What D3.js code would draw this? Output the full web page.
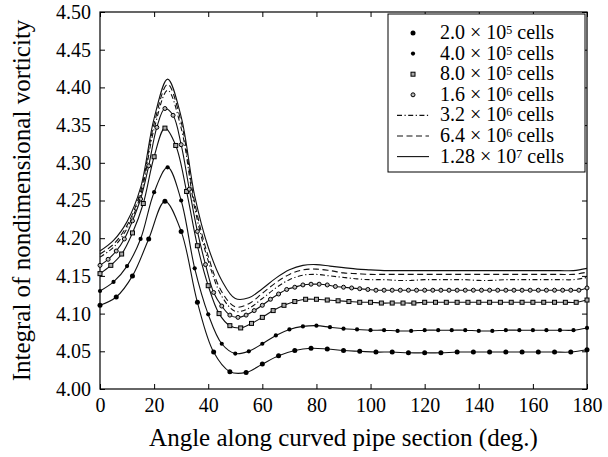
<!DOCTYPE html>
<html>
<head>
<meta charset="utf-8">
<script src="https://cdn.jsdelivr.net/npm/d3@7"></script>
<style>
  html, body { margin: 0; padding: 0; background: #fff; }
  svg { display: block; }
  text { font-family: "Liberation Serif", "Times New Roman", serif; fill: #000; }
</style>
</head>
<body>
<svg id="chart" width="608" height="457"></svg>
<script>
// Angle grids (degrees) on which each mesh reports its values
const angles6 = [0,6,12,18,24,30,36,42,48,54,60,66,72,78,84,90,96,102,108,114,120,126,132,138,144,150,156,162,168,174,180];
const angles5 = [0,5,10,15,20,25,30,35,40,45,50,55,60,65,70,75,80,85,90,95,100,105,110,115,120,125,130,135,140,145,150,155,160,165,170,175,180];
const angles4 = [0,4,8,12,16,20,24,28,32,36,40,44,48,52,56,60,64,68,72,76,80,84,88,92,96,100,104,108,112,116,120,124,128,132,136,140,144,148,152,156,160,164,168,172,176,180];
const angles3 = [0,3,6,9,12,15,18,21,24,27,30,33,36,39,42,45,48,51,54,57,60,63,66,69,72,75,78,81,84,87,90,93,96,99,102,105,108,111,114,117,120,123,126,129,132,135,138,141,144,147,150,153,156,159,162,165,168,171,174,177,180];

// Integral of nondimensional vorticity for each mesh
const cells2e5 = [4.111,4.122,4.150,4.199,4.249,4.209,4.115,4.049,4.023,4.022,4.033,4.044,4.051,4.054,4.053,4.051,4.050,4.049,4.049,4.048,4.048,4.048,4.049,4.049,4.049,4.049,4.049,4.049,4.049,4.049,4.052];
const cells4e5 = [4.130,4.142,4.163,4.199,4.261,4.294,4.250,4.160,4.099,4.060,4.047,4.050,4.060,4.071,4.079,4.083,4.084,4.082,4.080,4.079,4.078,4.078,4.077,4.077,4.078,4.078,4.078,4.078,4.077,4.077,4.078,4.078,4.078,4.078,4.078,4.078,4.081];
const cells8e5 = [4.153,4.164,4.179,4.207,4.246,4.308,4.346,4.323,4.262,4.190,4.137,4.100,4.084,4.081,4.087,4.095,4.104,4.111,4.116,4.119,4.119,4.118,4.117,4.116,4.115,4.115,4.114,4.114,4.114,4.114,4.115,4.115,4.115,4.115,4.115,4.115,4.115,4.115,4.115,4.115,4.115,4.115,4.115,4.115,4.115,4.118];
const cells1_6e6 = [4.164,4.172,4.183,4.199,4.223,4.252,4.296,4.347,4.372,4.363,4.324,4.265,4.209,4.165,4.128,4.110,4.098,4.095,4.098,4.104,4.111,4.119,4.126,4.132,4.135,4.138,4.139,4.139,4.138,4.136,4.135,4.134,4.133,4.132,4.131,4.131,4.131,4.131,4.131,4.131,4.131,4.131,4.131,4.131,4.131,4.131,4.131,4.131,4.131,4.131,4.131,4.131,4.131,4.131,4.131,4.131,4.131,4.131,4.131,4.131,4.134];
const cells3_2e6 = [4.175,4.188,4.213,4.257,4.345,4.396,4.346,4.240,4.170,4.123,4.103,4.107,4.120,4.134,4.145,4.151,4.152,4.150,4.148,4.146,4.145,4.145,4.144,4.144,4.145,4.145,4.145,4.145,4.144,4.144,4.145,4.145,4.145,4.145,4.145,4.145,4.148];
const cells6_4e6 = [4.179,4.192,4.217,4.262,4.352,4.404,4.354,4.247,4.176,4.129,4.109,4.113,4.127,4.141,4.152,4.158,4.159,4.157,4.154,4.153,4.152,4.152,4.152,4.152,4.152,4.152,4.152,4.152,4.152,4.152,4.152,4.152,4.152,4.152,4.152,4.152,4.155];
const cells1_28e7 = [4.183,4.197,4.222,4.267,4.359,4.411,4.361,4.256,4.188,4.144,4.120,4.121,4.133,4.147,4.158,4.164,4.165,4.163,4.161,4.159,4.158,4.157,4.157,4.157,4.157,4.157,4.157,4.157,4.157,4.157,4.157,4.157,4.157,4.157,4.157,4.157,4.160];

// Axis ticks
const xTicks = [0,20,40,60,80,100,120,140,160,180];
const yTicks = [4.00,4.05,4.10,4.15,4.20,4.25,4.30,4.35,4.40,4.45,4.50];

// Legend text: mantissa and power of ten of each cell count
const legendMantissa = ["2.0","4.0","8.0","1.6","3.2","6.4","1.28"];
const legendExponent = ["5","5","5","6","6","6","7"];

const series = [
  { x: angles6, y: cells2e5,    marker: "dot",    dash: null },
  { x: angles5, y: cells4e5,    marker: "dotS",   dash: null },
  { x: angles4, y: cells8e5,    marker: "square", dash: null },
  { x: angles3, y: cells1_6e6,  marker: "ring",   dash: null },
  { x: angles5, y: cells3_2e6,  marker: null,     dash: "5,2.5,1.2,2.5" },
  { x: angles5, y: cells6_4e6,  marker: null,     dash: "6,3.5" },
  { x: angles5, y: cells1_28e7, marker: null,     dash: null }
];

(function draw() {
  const svg = d3.select("#chart");
  const plotLeft = 100, plotRight = 587, plotTop = 12, plotBottom = 389;

  const x = d3.scaleLinear().domain([0, 180]).range([plotLeft, plotRight]);
  const y = d3.scaleLinear().domain([4.0, 4.5]).range([plotBottom, plotTop]);

  const fmtY = d3.format(".2f");

  // Axes with inward ticks on all four sides
  const gx = svg.append("g").attr("transform", `translate(0,${plotBottom})`)
    .call(d3.axisBottom(x).tickValues(xTicks).tickSize(-5).tickPadding(9).tickFormat(d3.format("d")));
  const gy = svg.append("g").attr("transform", `translate(${plotLeft},0)`)
    .call(d3.axisLeft(y).tickValues(yTicks).tickSize(-5).tickPadding(9).tickFormat(fmtY));
  const gt = svg.append("g").attr("transform", `translate(0,${plotTop})`)
    .call(d3.axisTop(x).tickValues(xTicks).tickSize(-5).tickFormat(""));
  const gr = svg.append("g").attr("transform", `translate(${plotRight},0)`)
    .call(d3.axisRight(y).tickValues(yTicks).tickSize(-5).tickFormat(""));

  [gx, gy, gt, gr].forEach(g => {
    g.attr("font-family", null);
    g.select(".domain").remove();
    g.selectAll(".tick line").attr("stroke", "#000").attr("stroke-width", 1);
    g.selectAll(".tick text").style("font-family", '"Liberation Serif", serif').style("font-size", "20px").attr("fill", "#000");
  });

  svg.append("rect")
    .attr("x", plotLeft).attr("y", plotTop)
    .attr("width", plotRight - plotLeft).attr("height", plotBottom - plotTop)
    .attr("fill", "none").attr("stroke", "#000").attr("stroke-width", 1.2);

  function drawMarker(g, cx, cy, kind) {
    if (kind === "dot") {
      g.append("circle").attr("cx", cx).attr("cy", cy).attr("r", 2.5).attr("fill", "#000");
    } else if (kind === "dotS") {
      g.append("circle").attr("cx", cx).attr("cy", cy).attr("r", 2.1).attr("fill", "#000");
    } else if (kind === "square") {
      g.append("rect").attr("x", cx - 2).attr("y", cy - 2).attr("width", 4).attr("height", 4)
        .attr("fill", "#aaa").attr("stroke", "#000").attr("stroke-width", 1);
    } else if (kind === "ring") {
      g.append("circle").attr("cx", cx).attr("cy", cy).attr("r", 2).attr("fill", "#bbb")
        .attr("stroke", "#000").attr("stroke-width", 1);
    }
  }

  // Curves
  const line = d3.line().curve(d3.curveCatmullRom.alpha(0.5));
  const plot = svg.append("g");
  series.forEach(s => {
    const pts = s.x.map((a, i) => [x(a), y(s.y[i])]);
    plot.append("path")
      .attr("d", line(pts))
      .attr("fill", "none")
      .attr("stroke", "#111")
      .attr("stroke-width", 1.1)
      .attr("stroke-dasharray", s.dash);
    if (s.marker) pts.forEach(p => drawMarker(plot, p[0], p[1], s.marker));
  });

  // Legend
  const lg = svg.append("g");
  lg.append("rect").attr("x", 388).attr("y", 14).attr("width", 197).attr("height", 158)
    .attr("fill", "#fff").attr("stroke", "#000").attr("stroke-width", 1);

  series.forEach((s, i) => {
    const base = 39 + i * 20.6;
    const my = base - 6;
    if (s.marker) {
      drawMarker(lg, 413, my, s.marker);
    } else {
      lg.append("line").attr("x1", 397).attr("x2", 429).attr("y1", my).attr("y2", my)
        .attr("stroke", "#111").attr("stroke-width", 1.1).attr("stroke-dasharray", s.dash);
    }
    const t = lg.append("text").attr("x", 440).attr("y", base).style("font-size", "20px");
    t.append("tspan").text(`${legendMantissa[i]} \u00d7 10`);
    t.append("tspan").attr("dy", -5).style("font-size", "12px").text(legendExponent[i]);
    t.append("tspan").attr("dy", 5).text(" cells");
  });

  // Axis titles
  svg.append("text")
    .attr("x", (plotLeft + plotRight) / 2).attr("y", 446)
    .attr("text-anchor", "middle").style("font-size", "25px")
    .text("Angle along curved pipe section (deg.)");

  svg.append("text")
    .attr("transform", `translate(30,${(plotTop + plotBottom) / 2}) rotate(-90)`)
    .attr("text-anchor", "middle").style("font-size", "25px")
    .text("Integral of nondimensional vorticity");
})();
</script>
</body>
</html>
